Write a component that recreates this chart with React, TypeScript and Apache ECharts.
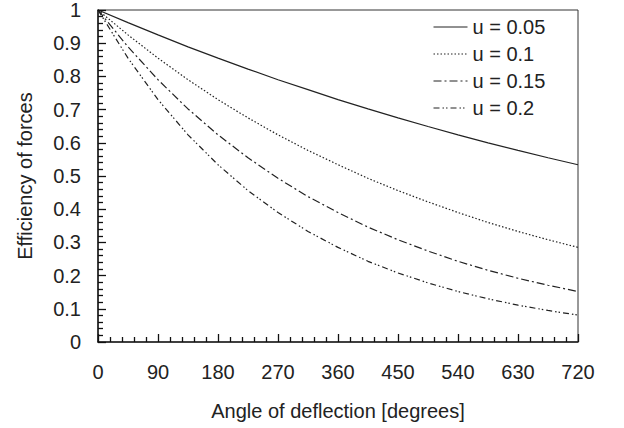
import React, { useEffect, useRef } from "react";
import * as echarts from "echarts";

const angles = [0, 45, 90, 135, 180, 225, 270, 315, 360, 405, 450, 495, 540, 585, 630, 675, 720];
const seriesNames = ["u = 0.05", "u = 0.1", "u = 0.15", "u = 0.2"];
const eff005 = [1, 0.962, 0.925, 0.889, 0.855, 0.822, 0.790, 0.760, 0.730, 0.702, 0.675, 0.649, 0.624, 0.600, 0.577, 0.555, 0.534];
const eff010 = [1, 0.925, 0.855, 0.790, 0.730, 0.675, 0.624, 0.577, 0.534, 0.493, 0.456, 0.422, 0.390, 0.360, 0.333, 0.308, 0.285];
const eff015 = [1, 0.889, 0.790, 0.702, 0.624, 0.555, 0.493, 0.438, 0.390, 0.346, 0.308, 0.274, 0.243, 0.216, 0.192, 0.171, 0.152];
const eff020 = [1, 0.855, 0.730, 0.624, 0.534, 0.456, 0.390, 0.333, 0.285, 0.243, 0.208, 0.178, 0.152, 0.130, 0.111, 0.095, 0.081];
const dashes: any[] = ["solid", [1.5, 2], [8, 3, 2, 3], [6, 3, 1.5, 2, 1.5, 3]];

export default function App() {
  const ref = useRef<HTMLDivElement>(null);
  useEffect(() => {
    document.body.style.margin = "0";
    const chart = echarts.init(ref.current!, null, { renderer: "svg" });
    const all = [eff005, eff010, eff015, eff020];
    const font = "Liberation Sans, Arial, sans-serif";
    const ink = "#222";
    const tickStyle = { color: "#111", width: 1.3 };
    chart.setOption({
      animation: false,
      backgroundColor: "#fff",
      textStyle: { fontFamily: font },
      grid: {
        left: 98, top: 10, width: 480, height: 332,
        show: true, borderColor: "#333", borderWidth: 1, backgroundColor: "transparent",
      },
      legend: {
        orient: "vertical", left: 433, top: 17, padding: 0,
        itemWidth: 34, itemHeight: 14, itemGap: 7,
        data: seriesNames,
        itemStyle: { opacity: 0 },
        lineStyle: { width: 1 },
        textStyle: { fontSize: 20, color: ink, fontFamily: font, lineHeight: 20 },
      },
      xAxis: {
        type: "value", min: 0, max: 720, interval: 90,
        name: "Angle of deflection [degrees]", nameLocation: "middle", nameGap: 59,
        nameTextStyle: { fontSize: 20, color: ink, fontFamily: font },
        axisLine: { show: true, lineStyle: { color: "#222", width: 1.6 } },
        axisTick: { show: true, inside: true, length: 8, lineStyle: tickStyle },
        minorTick: { show: true, splitNumber: 5, length: 5, lineStyle: tickStyle },
        splitLine: { show: false },
        minorSplitLine: { show: false },
        axisLabel: { fontSize: 20, color: ink, margin: 20, fontFamily: font },
        z: 10,
      },
      yAxis: {
        type: "value", min: 0, max: 1, interval: 0.1,
        name: "Efficiency of forces", nameLocation: "middle", nameGap: 63,
        nameTextStyle: { fontSize: 20, color: ink, fontFamily: font },
        axisLine: { show: true, lineStyle: { color: "#222", width: 1.6 } },
        axisTick: { show: true, inside: true, length: 8, lineStyle: tickStyle },
        minorTick: { show: true, splitNumber: 5, length: 5, lineStyle: tickStyle },
        splitLine: { show: false },
        minorSplitLine: { show: false },
        axisLabel: { fontSize: 20, color: ink, margin: 17, fontFamily: font },
        z: 10,
      },
      series: all.map((vals, i) => ({
        type: "line",
        name: seriesNames[i],
        data: angles.map((a, j) => [a, vals[j]]),
        showSymbol: false,
        symbol: "none",
        color: ink,
        lineStyle: { color: ink, width: 1.2, type: dashes[i] },
      })),
    });
    return () => chart.dispose();
  }, []);
  return <div ref={ref} style={{ width: 624, height: 428 }} />;
}
